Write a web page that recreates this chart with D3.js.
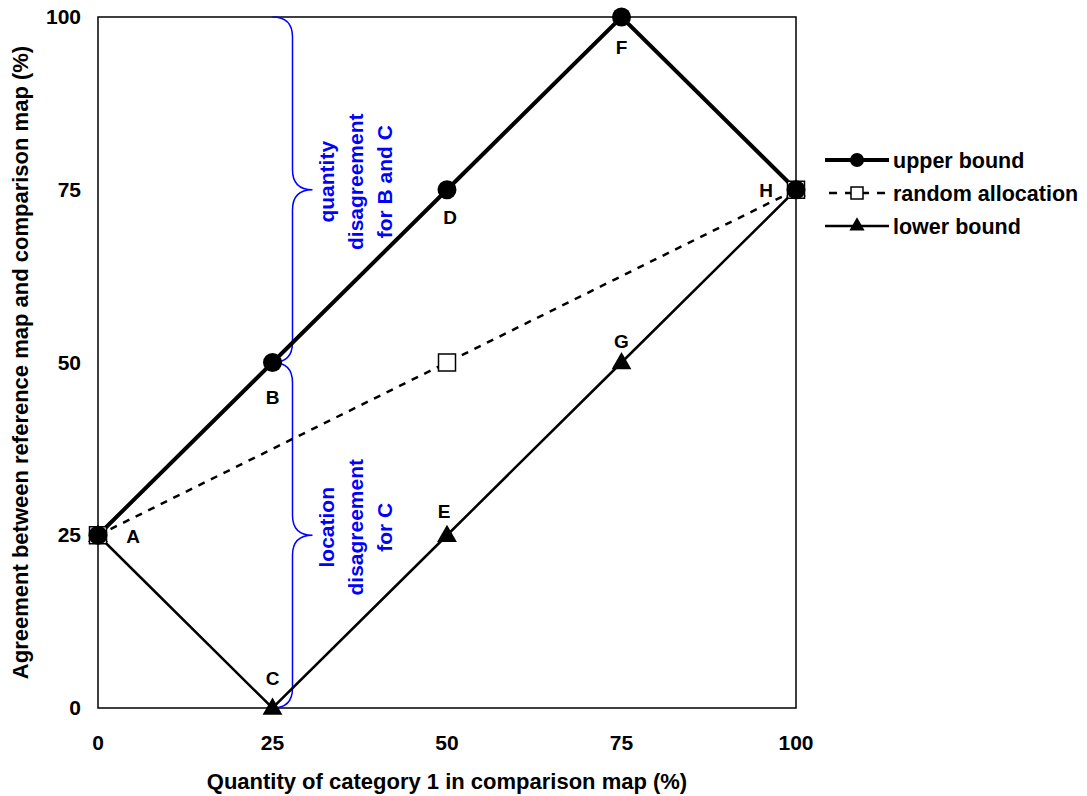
<!DOCTYPE html>
<html>
<head>
<meta charset="utf-8">
<script src="https://cdn.jsdelivr.net/npm/d3@7"></script>
<style>
  body { margin: 0; background: #fff; }
  text { font-family: "Liberation Sans", Arial, sans-serif; font-weight: bold; }
</style>
</head>
<body>
<div id="chart"></div>
<script>
// data
const xVals = [0, 25, 50, 75, 100];
const upperY = [25, 50, 75, 100, 75];
const lowerY = [25, 0, 25, 50, 75];
const randomX = [0, 50, 100];
const randomY = [25, 50, 75];
const tickVals = [0, 25, 50, 75, 100];
const pointLabels = ["A", "B", "C", "D", "E", "F", "G", "H"];
const pointLabelX = [0, 25, 25, 50, 50, 75, 75, 100];
const pointLabelY = [25, 50, 0, 75, 25, 100, 50, 75];

const W = 1087, H = 796;
const margin = {top: 17, right: 291, bottom: 88, left: 98};
const width = W - margin.left - margin.right,
  height = H - margin.top - margin.bottom;

const svg = d3.select("#chart").append("svg")
  .attr("width", W).attr("height", H);
const g = svg.append("g")
  .attr("transform", "translate(" + margin.left + "," + margin.top + ")");

const x = d3.scaleLinear().domain([0, 100]).range([0, width]);
const y = d3.scaleLinear().domain([0, 100]).range([height, 0]);

// frame
g.append("rect").attr("width", width).attr("height", height)
  .attr("fill", "none").attr("stroke", "#000").attr("stroke-width", 1.5);

// tick labels (no tick marks in the original)
g.selectAll(".xt").data(tickVals).enter().append("text")
  .attr("x", d => x(d)).attr("y", height + 42)
  .attr("text-anchor", "middle").attr("font-size", 21).text(d => d);
g.selectAll(".yt").data(tickVals).enter().append("text")
  .attr("x", -17).attr("y", d => y(d) + 7)
  .attr("text-anchor", "end").attr("font-size", 21).text(d => d);

// axis titles
svg.append("text").attr("x", margin.left + width / 2).attr("y", 789)
  .attr("text-anchor", "middle").attr("font-size", 22)
  .text("Quantity of category 1 in comparison map (%)");
svg.append("text")
  .attr("transform", "translate(28," + (margin.top + height / 2) + ") rotate(-90)")
  .attr("text-anchor", "middle").attr("font-size", 22)
  .text("Agreement between reference map and comparison map (%)");

// braces
function brace(xa, y0, y1, xb, xt) {
  // "}" shape from (xa,y0) down to (xa,y1), vertical at xb, tip at xt
  const ym = (y0 + y1) / 2, r = xb - xa, rt = xt - xb;
  return "M" + xa + "," + y0 +
    " Q" + xb + "," + y0 + " " + xb + "," + (y0 + r) +
    " L" + xb + "," + (ym - rt) +
    " Q" + xb + "," + ym + " " + xt + "," + ym +
    " Q" + xb + "," + ym + " " + xb + "," + (ym + rt) +
    " L" + xb + "," + (y1 - r) +
    " Q" + xb + "," + y1 + " " + xa + "," + y1;
}
g.append("path").attr("d", brace(x(25), y(100), y(50), x(25) + 20, x(25) + 40))
  .attr("fill", "none").attr("stroke", "#0000ff").attr("stroke-width", 1.5);
g.append("path").attr("d", brace(x(25), y(50), y(0), x(25) + 20, x(25) + 40))
  .attr("fill", "none").attr("stroke", "#0000ff").attr("stroke-width", 1.5);

function braceText(lines, cy) {
  lines.forEach((t, i) => {
    g.append("text")
      .attr("transform", "translate(" + (x(25) + 61 + i * 29) + "," + cy + ") rotate(-90)")
      .attr("text-anchor", "middle").attr("font-size", 21)
      .attr("fill", "#0000ff").text(t);
  });
}
braceText(["quantity", "disagreement", "for B and C"], y(75) - 8);
braceText(["location", "disagreement", "for C"], y(25) - 8);

// lines
const upper = xVals.map((d, i) => [d, upperY[i]]);
const lower = xVals.map((d, i) => [d, lowerY[i]]);
const random = randomX.map((d, i) => [d, randomY[i]]);
const line = d3.line().x(d => x(d[0])).y(d => y(d[1]));

g.append("path").datum(random).attr("d", line).attr("fill", "none")
  .attr("stroke", "#000").attr("stroke-width", 2.5).attr("stroke-dasharray", "7,7");
g.append("path").datum(lower).attr("d", line).attr("fill", "none")
  .attr("stroke", "#000").attr("stroke-width", 2.5);
g.append("path").datum(upper).attr("d", line).attr("fill", "none")
  .attr("stroke", "#000").attr("stroke-width", 4);

const tri = d3.symbol().type(d3.symbolTriangle).size(170);
g.selectAll(".tri").data(lower).enter().append("path")
  .attr("d", tri).attr("transform", d => "translate(" + x(d[0]) + "," + (y(d[1]) + 1) + ")")
  .attr("fill", "#000");
g.selectAll(".sq").data(random).enter().append("rect")
  .attr("x", d => x(d[0]) - 8.5).attr("y", d => y(d[1]) - 8.5)
  .attr("width", 17).attr("height", 17)
  .attr("fill", "#fff").attr("stroke", "#000").attr("stroke-width", 1.5);
g.selectAll(".dot").data(upper).enter().append("circle")
  .attr("cx", d => x(d[0])).attr("cy", d => y(d[1])).attr("r", 9.5)
  .attr("fill", "#000");

// point labels
const labelOff = {A: [35, 8], B: [0, 41], C: [0, -23], D: [3, 34], E: [-3, -17], F: [0, 37], G: [0, -15], H: [-30, 7]};
pointLabels.forEach((l, i) => {
  g.append("text")
    .attr("x", x(pointLabelX[i]) + labelOff[l][0])
    .attr("y", y(pointLabelY[i]) + labelOff[l][1])
    .attr("text-anchor", "middle").attr("font-size", 19).text(l);
});

// legend
const legend = [
  {name: "upper bound", w: 4, dash: null, m: "circle"},
  {name: "random allocation", w: 2.5, dash: "7,7", m: "square"},
  {name: "lower bound", w: 2.5, dash: null, m: "triangle"}
];
const lg = svg.append("g").attr("transform", "translate(825,160)");
legend.forEach((d, i) => {
  const row = lg.append("g").attr("transform", "translate(0," + i * 33 + ")");
  row.append("line").attr("x1", 0).attr("x2", 64)
    .attr("stroke", "#000").attr("stroke-width", d.w)
    .attr("stroke-dasharray", d.dash ? "8,8" : null)
    .attr("stroke-dashoffset", d.dash ? -4 : null);
  if (d.m === "circle") row.append("circle").attr("cx", 32).attr("r", 7).attr("fill", "#000");
  if (d.m === "square") row.append("rect").attr("x", 26).attr("y", -6).attr("width", 12).attr("height", 12)
    .attr("fill", "#fff").attr("stroke", "#000").attr("stroke-width", 1.5);
  if (d.m === "triangle") row.append("path").attr("d", d3.symbol().type(d3.symbolTriangle).size(100))
    .attr("transform", "translate(32,0)").attr("fill", "#000");
  row.append("text").attr("x", 68).attr("y", 8).attr("font-size", 21.5).text(d.name);
});
</script>
</body>
</html>
